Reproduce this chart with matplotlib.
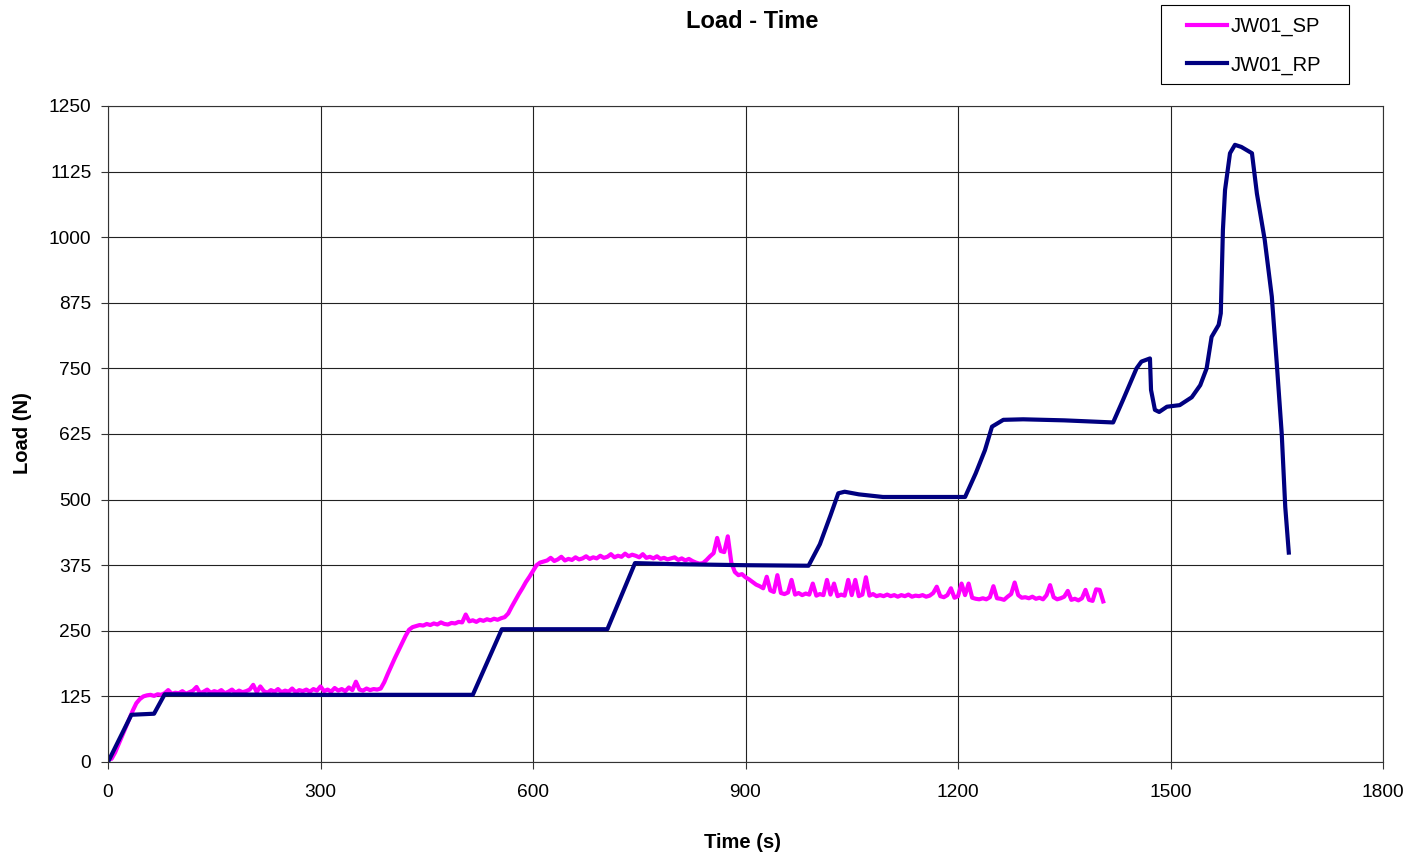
import numpy as np
import matplotlib
matplotlib.use("Agg")
import matplotlib.pyplot as plt
from matplotlib.patches import Rectangle

plt.rcParams['font.family'] = ['Liberation Sans', 'DejaVu Sans']

# ---- data ----
sp_time = np.arange(0, 1406, 5)
sp_load = [
    10, 6, 18, 34, 50, 66, 82, 98, 112, 120, 125, 127, 128, 126, 129, 128, 131, 137, 130, 132,
    131, 135, 130, 133, 136, 143, 131, 134, 138, 132, 135, 133, 137, 131, 134, 138, 132, 136, 133, 135,
    138, 147, 133, 144, 135, 132, 137, 134, 139, 133, 136, 134, 140, 133, 137, 135, 138, 134, 139, 136,
    144, 135, 138, 134, 141, 136, 139, 135, 142, 137, 153, 138, 136, 140, 137, 139, 138, 140, 152, 168,
    183, 198, 212, 226, 240, 252, 257, 259, 261, 260, 263, 261, 264, 262, 266, 263, 262, 265, 264, 267,
    266, 281, 268, 270, 267, 271, 269, 272, 270, 273, 271, 274, 276, 283, 296, 308, 320, 331, 343, 353,
    364, 375, 380, 382, 384, 389, 383, 386, 391, 384, 387, 385, 390, 386, 388, 392, 387, 390, 388, 393,
    389, 391, 396, 390, 393, 391, 397, 392, 395, 393, 390, 396, 389, 391, 388, 392, 387, 389, 386, 388,
    390, 385, 388, 384, 387, 383, 380, 378, 379, 385, 392, 398, 427, 402, 400, 430, 380, 362, 356, 358,
    352, 348, 343, 338, 335, 331, 353, 327, 324, 356, 322, 320, 323, 347, 319, 322, 318, 321, 319, 340,
    317, 320, 318, 347, 319, 340, 316, 319, 317, 347, 318, 347, 316, 319, 352, 317, 320, 316, 318, 316,
    319, 316, 318, 315, 318, 316, 319, 315, 317, 316, 318, 315, 317, 322, 334, 316, 314, 318, 331, 313,
    316, 340, 318, 340, 313, 311, 310, 312, 310, 314, 335, 312, 311, 309, 315, 320, 342, 318, 313, 314,
    312, 315, 311, 313, 310, 318, 337, 314, 310, 312, 315, 326, 309, 311, 308, 312, 328, 309, 307, 329,
    328, 306,
]

rp_time = [0, 33, 65, 80, 300, 515, 556, 705, 744, 800, 900, 989, 1005, 1020, 1031, 1040,
           1060, 1094, 1210, 1225, 1238, 1248, 1264, 1292, 1350, 1419, 1433, 1452, 1459,
           1471, 1472.5, 1478, 1484, 1495, 1513, 1530, 1542, 1551, 1558, 1568, 1571, 1574,
           1577, 1584, 1591, 1600, 1615, 1622, 1633, 1643, 1650, 1657, 1662, 1667]
rp_load = [0, 90, 92, 129, 128, 128, 253, 253, 379, 377, 375, 374, 415, 470, 512, 515,
           510, 505, 505, 550, 594, 639, 652, 653, 651, 647, 690, 750, 763,
           769, 709, 671, 667, 677, 680, 695, 718, 750, 810, 833, 855, 1014,
           1090, 1160, 1176, 1172, 1160, 1083, 995, 887, 760, 626, 486, 399]

x_ticks = [0, 300, 600, 900, 1200, 1500, 1800]
y_ticks = [0, 125, 250, 375, 500, 625, 750, 875, 1000, 1125, 1250]

# ---- figure ----
W, H = 1414, 859
fig = plt.figure(figsize=(14.14, 8.59), dpi=100)
ax = fig.add_axes([108/W, 1-762/H, (1383-108)/W, (762-106)/H])

ax.plot(sp_time, sp_load, color='#FF00FF', lw=3.0, label='JW01_SP', solid_joinstyle='round')
ax.plot(rp_time, rp_load, color='#000080', lw=3.0, label='JW01_RP', solid_joinstyle='round')

ax.set_xlim(0, 1800)
ax.set_ylim(0, 1250)
ax.set_xticks(x_ticks)
ax.set_yticks(y_ticks)
ax.tick_params(direction='out', length=5, width=0.8, labelsize=13.8, color='#333333')
ax.tick_params(axis='x', pad=11)
ax.tick_params(axis='y', pad=7)
ax.grid(True, color='#222222', lw=0.8)
ax.set_axisbelow(True)
for s in ax.spines.values():
    s.set_color('#333333')
    s.set_linewidth(0.8)

fig.text(752/W, 1-21/H, 'Load - Time', ha='center', va='center', fontsize=17, fontweight='bold')
fig.text(743/W, 1-843/H, 'Time (s)', ha='center', va='center', fontsize=14.5, fontweight='bold')
fig.text(23/W, 1-433/H, 'Load (N)', ha='center', va='center', fontsize=14.5, fontweight='bold', rotation=90)

# legend box drawn separately for Excel-like proportions
fig.patches.append(Rectangle((1161/W, 1-84/H), (1349-1161)/W, (84-5)/H, transform=fig.transFigure,
                             facecolor='white', edgecolor='black', lw=0.8, zorder=5))
leg = fig.legend(loc='upper left', bbox_to_anchor=(1187/W, 1-17/H), fontsize=14.5,
                 frameon=False, handlelength=2.0, handletextpad=0.15, borderpad=0,
                 labelspacing=0.95, borderaxespad=0)
leg.set_zorder(6)

fig.savefig('out.png', dpi=100)
